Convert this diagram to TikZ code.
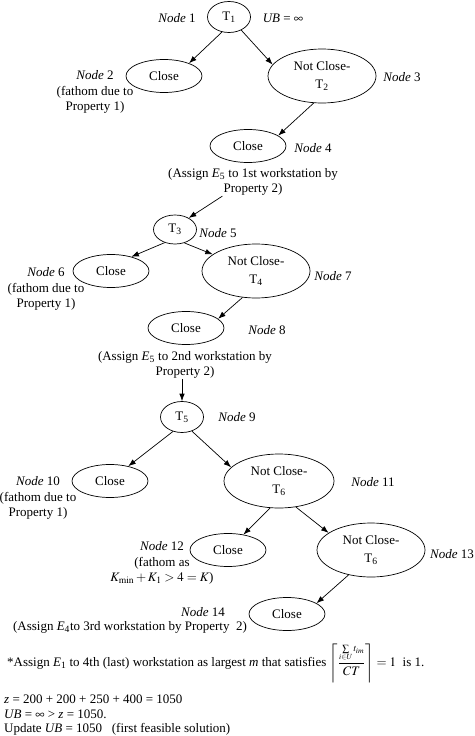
\documentclass[tikz,border=0pt]{standalone}
\usepackage{amsmath}
\usepackage{mathptmx}
\usepackage{fontspec}
\setmainfont{Liberation Serif}
\usetikzlibrary{arrows.meta,shapes.geometric}

\begin{document}
\begin{tikzpicture}[x=1pt,y=-1pt,font=\fontsize{13}{15.5}\selectfont,
  tn/.style={draw,ellipse,minimum width=43pt,minimum height=31pt,inner sep=0pt},
  cl/.style={draw,ellipse,minimum width=76pt,minimum height=33pt,inner sep=0pt},
  nc/.style={draw,ellipse,minimum width=108pt,minimum height=54pt,inner sep=0pt,align=center},
  lbl/.style={align=center,inner sep=1pt},
  arr/.style={-{Latex[length=7.5pt,width=5.5pt]},line width=0.7pt}]
\useasboundingbox (0,0) rectangle (474,736);
% level 1
\node[tn,line width=0.7pt] (t1) at (229,17) {T\textsubscript{1}};
\node[lbl] (n1) at (177,18) {\textit{Node} 1};
\node[lbl] (ub) at (283,18) {\textit{UB} = $\infty$};
\node[cl,line width=0.7pt] (c2) at (164,76) {Close};
\node[lbl] (n2) at (95,92) {\textit{Node} 2\\(fathom due to\\Property 1)};
\node[nc,line width=0.7pt] (nc3) at (322,76) {Not Close-\\[3pt]T\textsubscript{2}};
\node[lbl] (n3) at (402,77) {\textit{Node} 3};
\node[cl,line width=0.7pt] (c4) at (248,146) {Close};
\node[lbl] (n4) at (313,148) {\textit{Node} 4};
\node[lbl] (a4) at (253,174) {(Assign \textit{E}\textsubscript{5} to 1st workstation by};
\node[lbl] (a4b) at (253,189) {Property 2)};
% level 2
\node[tn,line width=0.7pt,minimum height=29pt] (t3) at (175,229.5) {T\textsubscript{3}};
\node[lbl] (n5) at (218,233) {\textit{Node} 5};
\node[cl,line width=0.7pt] (c6) at (111,271) {Close};
\node[lbl] (n6) at (46,289) {\textit{Node} 6\\(fathom due to\\Property 1)};
\node[nc,line width=0.7pt] (nc7) at (256,271) {Not Close-\\[3pt]T\textsubscript{4}};
\node[lbl] (n7) at (333,276) {\textit{Node} 7};
\node[cl,line width=0.7pt] (c8) at (186,328) {Close};
\node[lbl] (n8) at (267,330) {\textit{Node} 8};
\node[lbl] (a8) at (185,357) {(Assign \textit{E}\textsubscript{5} to 2nd workstation by};
\node[lbl] (a8b) at (185,372) {Property 2)};
% level 3
\node[tn,line width=0.7pt] (t5) at (182,417) {T\textsubscript{5}};
\node[lbl] (n9) at (237,417) {\textit{Node} 9};
\node[cl,line width=0.7pt] (c10) at (110,481) {Close};
\node[lbl] (n10) at (38,498) {\textit{Node} 10\\(fathom due to\\Property 1)};
\node[nc,line width=0.7pt,minimum width=110pt] (nc11) at (279,481) {Not Close-\\[3pt]T\textsubscript{6}};
\node[lbl] (n11) at (373,482) {\textit{Node} 11};
\node[cl,line width=0.7pt] (c12) at (228,550) {Close};
\node[lbl] (n12) at (162,563) {\textit{Node} 12\\(fathom as\\$K_{\min}+K_1>4=K$)};
\node[nc,line width=0.7pt] (nc13) at (371,550) {Not Close-\\[3pt]T\textsubscript{6}};
\node[lbl] (n13) at (452,554) {\textit{Node} 13};
\node[cl,line width=0.7pt] (c14) at (287,614) {Close};
\node[lbl] (n14) at (203,612) {\textit{Node} 14};
\node[lbl] (a14) at (130,627) {(Assign \textit{E}\textsubscript{4}to 3rd workstation by Property\ \ 2)};
% closing text
\node[lbl,anchor=west] (star) at (6,663) {*Assign \textit{E}\textsubscript{1} to 4th (last) workstation as largest \textit{m} that satisfies
  $\left\lceil \dfrac{\scriptstyle\sum\limits_{i\in U} t_{im}}{CT}\right\rceil = 1$\ \ is 1.};
\node[lbl,anchor=west] (z) at (3,699) {\textit{z} = 200 + 200 + 250 + 400 = 1050};
\node[lbl,anchor=west] (ub2) at (3,714) {\textit{UB} = $\infty$ > \textit{z} = 1050.};
\node[lbl,anchor=west] (upd) at (3,729) {Update \textit{UB} = 1050\ \ \ (first feasible solution)};
% connectors
\draw[arr] (t1.-115) -- (c2.27);
\draw[arr] (t1.-47) -- (nc3.167);
\draw[arr] (nc3.-107) -- (c4.19);
\draw[arr] (a4b.south west) -- (t3.40);
\draw[arr] (t3.-128) -- (c6.35);
\draw[arr] (t3.-55) -- (nc7.159);
\draw[arr] (nc7.-117) -- (c8.16);
\draw[arr] (t5.north |- a8b.south) -- (t5.north);
\draw[arr] (t5.-122) -- (c10.39);
\draw[arr] (t5.-55) -- (nc11.164);
\draw[arr] (nc11.-108) -- (c12.45);
\draw[arr] (nc11.-57) -- (nc13.158);
\draw[arr] (nc13.-132) -- (c14.20);
\end{tikzpicture}
\end{document}
